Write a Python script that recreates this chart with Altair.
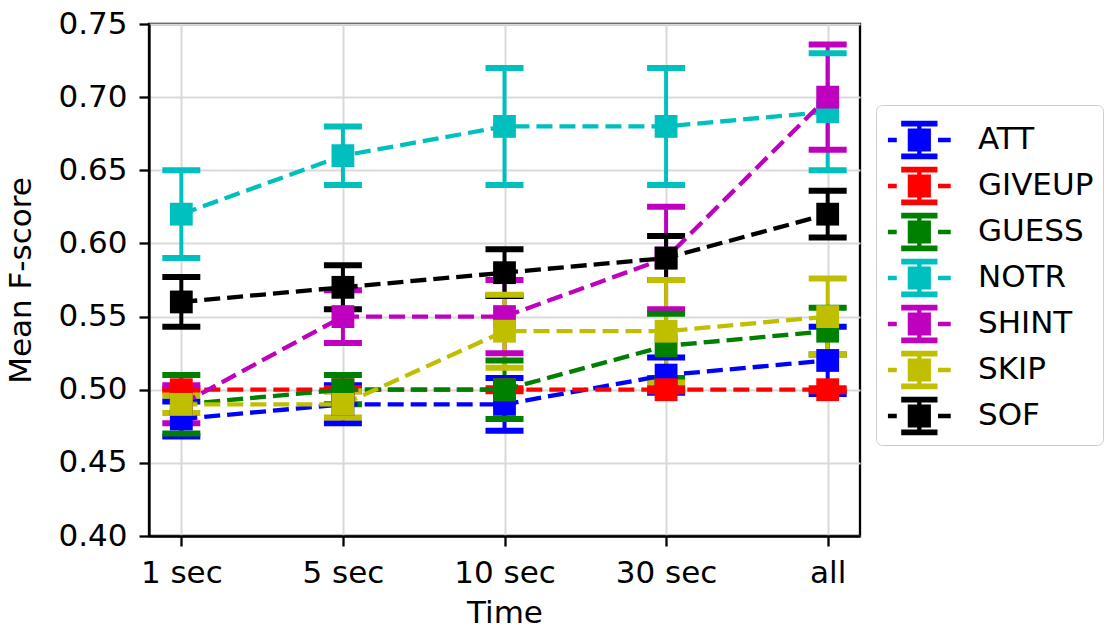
import altair as alt
import pandas as pd

times = ["1 sec", "5 sec", "10 sec", "30 sec", "all"]
names = ["ATT", "GIVEUP", "GUESS", "NOTR", "SHINT", "SKIP", "SOF"]
colors = ["#0000ff", "#ff0000", "#008000", "#00bfbf", "#bf00bf", "#bfbf00", "#000000"]

att_mean = [0.48, 0.49, 0.49, 0.51, 0.52]
att_err = [0.012, 0.013, 0.018, 0.012, 0.023]
giveup_mean = [0.50, 0.50, 0.50, 0.50, 0.50]
giveup_err = [0.001, 0.001, 0.001, 0.001, 0.001]
guess_mean = [0.49, 0.50, 0.50, 0.53, 0.54]
guess_err = [0.02, 0.01, 0.02, 0.022, 0.016]
notr_mean = [0.62, 0.66, 0.68, 0.68, 0.69]
notr_err = [0.03, 0.02, 0.04, 0.04, 0.04]
shint_mean = [0.49, 0.55, 0.55, 0.59, 0.70]
shint_err = [0.013, 0.018, 0.025, 0.035, 0.036]
skip_mean = [0.49, 0.49, 0.54, 0.54, 0.55]
skip_err = [0.006, 0.009, 0.025, 0.035, 0.026]
sof_mean = [0.56, 0.57, 0.58, 0.59, 0.62]
sof_err = [0.017, 0.015, 0.016, 0.015, 0.016]

means = [att_mean, giveup_mean, guess_mean, notr_mean, shint_mean, skip_mean, sof_mean]
errs = [att_err, giveup_err, guess_err, notr_err, shint_err, skip_err, sof_err]

rows = []
for si, (n, m, e) in enumerate(zip(names, means, errs)):
    for ti, t in enumerate(times):
        rows.append({"series": n, "order": si, "t": ti, "mean": m[ti],
                     "lo": m[ti] - e[ti], "hi": m[ti] + e[ti]})
df = pd.DataFrame(rows)

FONT = "DejaVu Sans"
FS = 31
label_expr = "[" + ",".join("'" + t + "'" for t in times) + "][datum.value]"

x_enc = alt.X("t:Q", scale=alt.Scale(domain=[-0.2, 4.2], nice=False, zero=False),
              axis=alt.Axis(values=list(range(len(times))), labelExpr=label_expr, title="Time",
                            grid=True))
y_scale = alt.Scale(domain=[0.40, 0.75], nice=False, zero=False)
y_axis = alt.Axis(values=[0.40, 0.45, 0.50, 0.55, 0.60, 0.65, 0.70, 0.75], format=".2f",
                  title="Mean F-score", grid=True)

cscale = alt.Scale(domain=names, range=colors)
color_none = alt.Color("series:N", scale=cscale, legend=None)

# legend glyph: dashed line + errorbar with caps + square marker
legend_path = ("M-0.887,-0.083H-0.547V0.083H-0.887Z "
               "M1.038,-0.083H1.528V0.083H1.038Z "
               "M0.238,-0.543H0.404V0.543H0.238Z "
               "M-0.377,-0.736H1.019V-0.517H-0.377Z "
               "M-0.377,0.517H1.019V0.736H-0.377Z "
               "M-0.125,-0.445H0.766V0.445H-0.125Z")

color_leg = alt.Color("series:N", scale=cscale, title=None,
                      legend=alt.Legend(orient="none", legendX=727, legendY=81,
                                        symbolType=legend_path, symbolSize=2704,
                                        symbolStrokeWidth=0, symbolOpacity=1,
                                        labelFont=FONT, labelFontSize=FS, labelColor="black",
                                        labelOffset=41, rowPadding=0, padding=9,
                                        strokeColor="#cccccc", fillColor="white",
                                        cornerRadius=6, labelLimit=300))

base = alt.Chart(df)

rules = base.mark_rule(strokeWidth=4, opacity=1).encode(
    x=x_enc, y=alt.Y("lo:Q", scale=y_scale, axis=y_axis), y2="hi:Q", color=color_none)
cap_lo = base.mark_tick(orient="horizontal", size=38, thickness=6, opacity=1).encode(
    x=x_enc, y=alt.Y("lo:Q", scale=y_scale), color=color_none, order="order:Q")
cap_hi = base.mark_tick(orient="horizontal", size=38, thickness=6, opacity=1).encode(
    x=x_enc, y=alt.Y("hi:Q", scale=y_scale), color=color_none, order="order:Q")
lines = base.mark_line(strokeWidth=4.3, strokeDash=[16, 7], opacity=1).encode(
    x=x_enc, y=alt.Y("mean:Q", scale=y_scale), color=color_none, order="t:Q")
points = base.mark_square(size=520, opacity=1, filled=True).encode(
    x=x_enc, y=alt.Y("mean:Q", scale=y_scale), color=color_leg, order="order:Q")

chart = alt.layer(rules, cap_lo, cap_hi, lines, points).resolve_legend(
    color="independent"
).properties(
    width=711, height=512,
    padding={"left": 149, "top": 24, "right": 247, "bottom": 96},
    autosize=alt.AutoSizeParams(type="none"),
).configure_view(stroke="black", strokeWidth=2.3).configure_axis(
    labelFont=FONT, labelFontSize=FS, labelColor="black",
    titleFont=FONT, titleFontSize=FS, titleColor="black", titleFontWeight="normal",
    domainColor="black", domainWidth=2.3, tickColor="black", tickWidth=2.3, tickSize=10,
    gridColor="#d9d9d9", gridWidth=2, labelPadding=12,
).configure_axisY(titlePadding=20).configure_axisX(titlePadding=10)

chart.save("out.html", embed_options={"renderer": "svg", "actions": False})
